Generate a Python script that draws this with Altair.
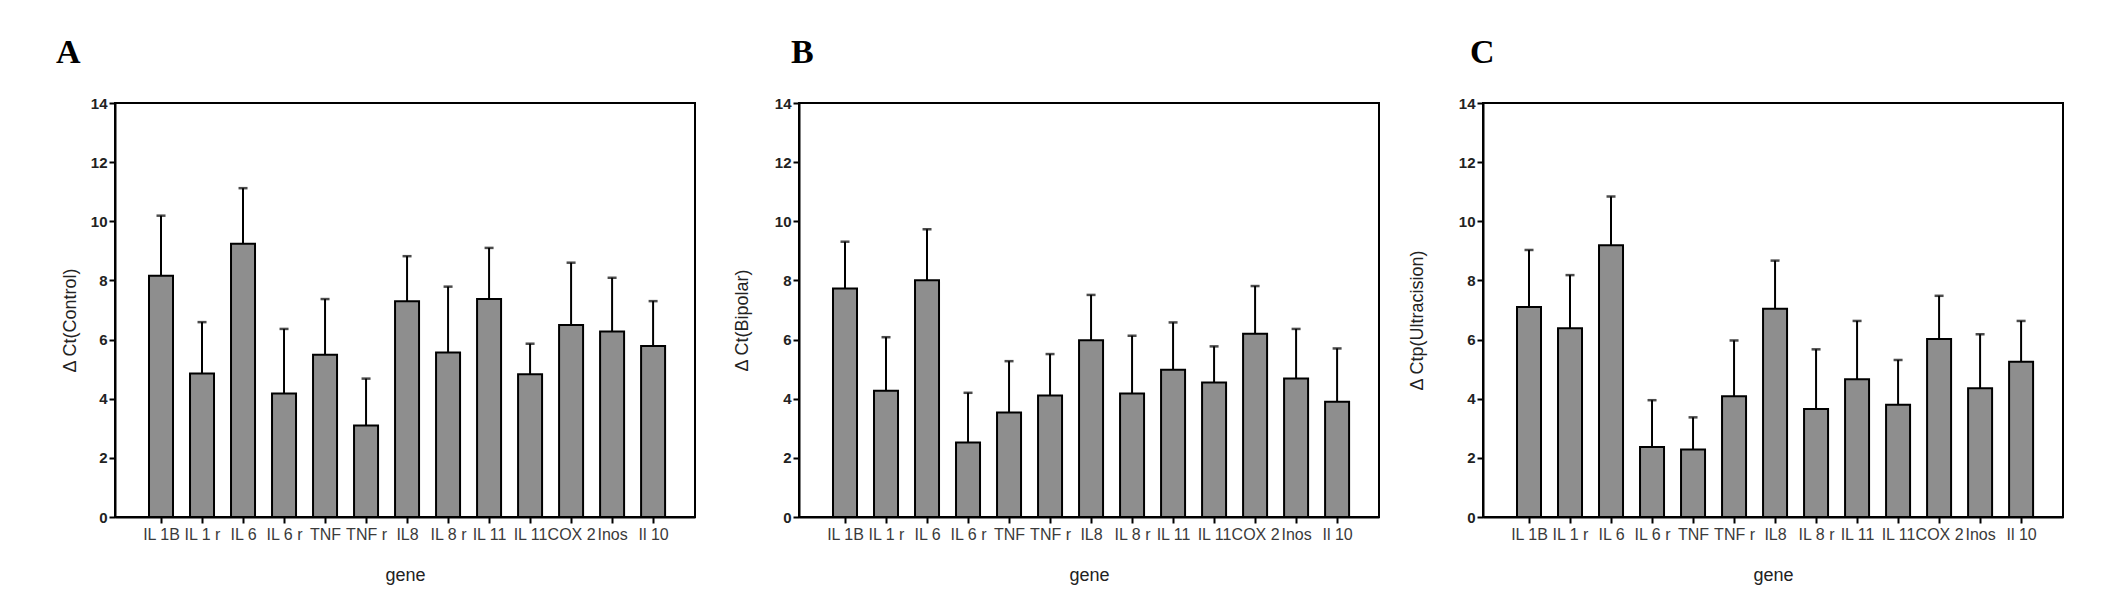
import json
import altair as alt
import pandas as pd

genes = ["IL 1B", "IL 1 r", "IL 6", "IL 6 r", "TNF", "TNF r", "IL8", "IL 8 r",
         "IL 11", "IL 11", "COX 2", "Inos", "Il 10"]

control_mean = [8.16, 4.85, 9.24, 4.18, 5.49, 3.09, 7.30, 5.56, 7.37, 4.83, 6.49, 6.27, 5.78]
control_sd = [2.03, 1.74, 1.88, 2.18, 1.88, 1.59, 1.52, 2.23, 1.73, 1.03, 2.11, 1.82, 1.52]

bipolar_mean = [7.73, 4.27, 8.01, 2.52, 3.53, 4.11, 5.98, 4.18, 4.98, 4.55, 6.20, 4.68, 3.90]
bipolar_sd = [1.58, 1.81, 1.72, 1.68, 1.74, 1.40, 1.53, 1.95, 1.60, 1.22, 1.61, 1.68, 1.80]

ultra_mean = [7.10, 6.38, 9.19, 2.37, 2.28, 4.08, 7.04, 3.65, 4.66, 3.80, 6.02, 4.35, 5.25]
ultra_sd = [1.93, 1.80, 1.65, 1.58, 1.09, 1.89, 1.63, 2.02, 1.97, 1.51, 1.46, 1.83, 1.38]

y_ticks = [0, 2, 4, 6, 8, 10, 12, 14]

FONT = "Liberation Sans"
W, H = 580, 414
label_expr = json.dumps(genes) + "[datum.value]"


def panel(mean, sd, ytitle, letter, title_x, letter_x, with_anchor):
    df = pd.DataFrame({
        "idx": list(range(len(genes))),
        "gene": genes,
        "mean": mean,
        "upper": [m + s for m, s in zip(mean, sd)],
    })
    x = alt.X("idx:Q",
              scale=alt.Scale(domain=[-1.0, 12.9], nice=False, zero=False),
              axis=alt.Axis(values=list(range(len(genes))), labelExpr=label_expr,
                            title="gene", grid=False, tickSize=6, tickWidth=2,
                            tickColor="black", domainColor="black", domainWidth=2,
                            labelFont=FONT, labelFontSize=16, labelColor="#3a3a3a",
                            labelPadding=3, labelFlush=False, labelOverlap=False,
                            titleFont=FONT, titleFontSize=18, titleFontWeight="normal",
                            titleColor="#222222", titleBaseline="middle", titleY=58))
    y_axis = alt.Axis(values=y_ticks, title=ytitle, grid=False, tickSize=6, tickWidth=2,
                      tickColor="black", domainColor="black", domainWidth=2,
                      labelFont=FONT, labelFontSize=15, labelFontWeight="bold",
                      labelColor="#222222", labelPadding=2,
                      titleFont=FONT, titleFontSize=18, titleFontWeight="normal",
                      titleColor="#222222", titleBaseline="middle",
                      titleX=title_x, titleY=217, titleAngle=-90)
    yscale = alt.Scale(domain=[0, 14], nice=False)
    base = alt.Chart(df)
    bars = base.mark_bar(size=24, color="#8e8e8e", stroke="black", strokeWidth=2).encode(
        x=x, y=alt.Y("mean:Q", scale=yscale, axis=y_axis))
    err = base.mark_rule(color="black", strokeWidth=2).encode(
        x="idx:Q", y="mean:Q", y2="upper:Q")
    cap = base.mark_tick(color="black", orient="horizontal", size=9, thickness=2.5).encode(
        x="idx:Q", y="upper:Q")
    lab = alt.Chart(pd.DataFrame({"t": [letter]})).mark_text(
        font="Liberation Serif", fontSize=34, fontWeight="bold", align="left",
        baseline="alphabetic", color="black").encode(
        text="t:N", x=alt.value(letter_x), y=alt.value(-40))
    layers = [bars, err, cap, lab]
    if with_anchor:
        anchor = alt.Chart(pd.DataFrame({"a": [0]})).mark_rule(
            color="white", strokeWidth=1).encode(
            x=alt.value(-105), x2=alt.value(-104), y=alt.value(-93), y2=alt.value(-93))
        layers.append(anchor)
    return alt.layer(*layers).properties(
        width=W, height=H,
        view=alt.ViewBackground(stroke="black", strokeWidth=2, fill="white"))


pA = panel(control_mean, control_sd, "Δ Ct(Control)", "A", -45, -59, True)
pB = panel(bipolar_mean, bipolar_sd, "Δ Ct(Bipolar)", "B", -57, -8, False)
pC = panel(ultra_mean, ultra_sd, "Δ Ctp(Ultracision)", "C", -66, -13, False)

chart = alt.hconcat(pA, pB, pC, spacing=104, bounds="flush").properties(
    padding=0
).configure_view(stroke="black", strokeWidth=2).configure(background="white")

chart.save("out.html", embed_options={"renderer": "svg", "actions": False})
